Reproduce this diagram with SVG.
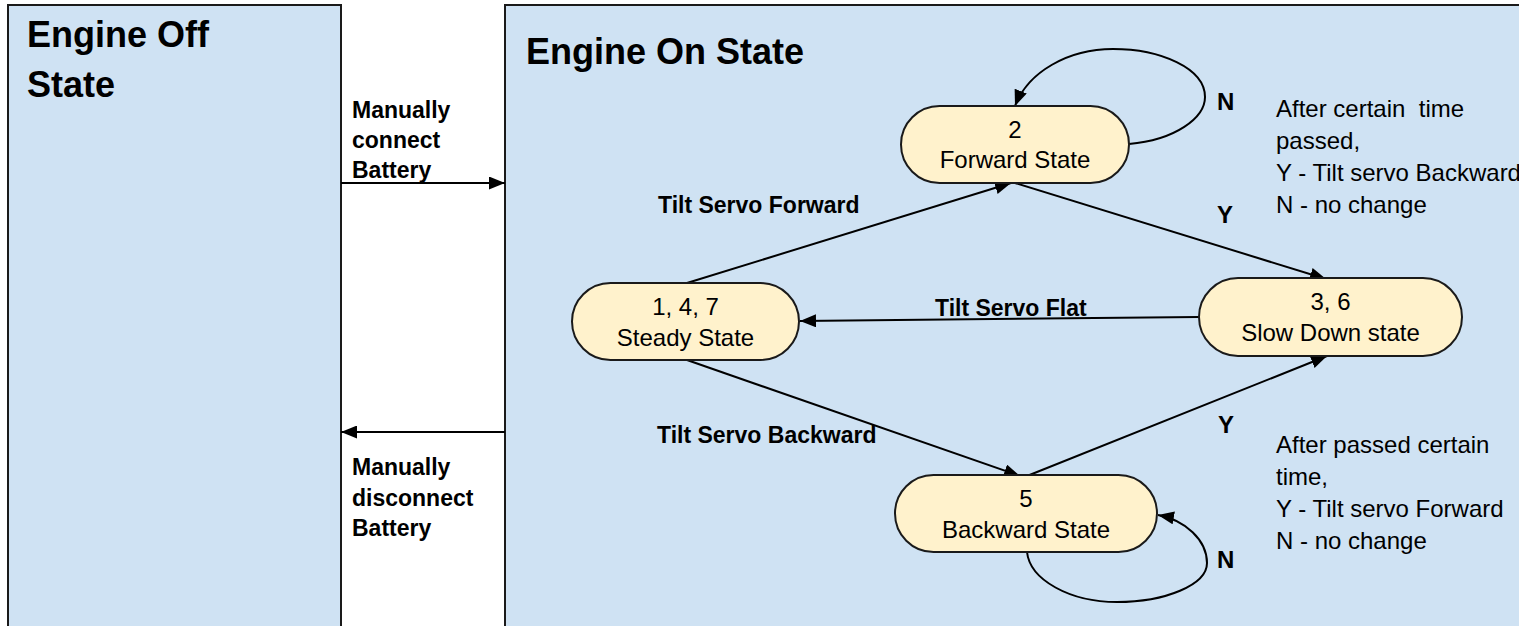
<svg xmlns="http://www.w3.org/2000/svg" width="1519" height="626" viewBox="0 0 1519 626">
<style>
.panel{fill:#cfe2f3;stroke:#1a1a1a;stroke-width:2}
.node{fill:#fff2cc;stroke:#1a1a1a;stroke-width:2}
.title{font-family:"Liberation Sans",Arial,sans-serif;font-weight:bold;font-size:36px;fill:#000}
.nt{font-family:"Liberation Sans",Arial,sans-serif;font-size:24px;fill:#000;text-anchor:middle}
.lbl{font-family:"Liberation Sans",Arial,sans-serif;font-weight:bold;font-size:23px;fill:#000}
.yn{font-family:"Liberation Sans",Arial,sans-serif;font-weight:bold;font-size:24px;fill:#000}
.note{font-family:"Liberation Sans",Arial,sans-serif;font-size:24px;fill:#000}
.edge{fill:none;stroke:#000;stroke-width:2}
</style>
<defs>
<marker id="arr" viewBox="0 0 16 13" refX="16" refY="6.5" markerWidth="16" markerHeight="13" orient="auto" markerUnits="userSpaceOnUse">
<path d="M0,0 L16,6.5 L0,13 z" fill="#000"/>
</marker>
</defs>
<rect width="1519" height="626" fill="#ffffff"/>

<g id="engine-off">
<rect class="panel" x="8" y="5" width="333" height="640"/>
<text class="title" x="27" y="47">Engine Off</text>
<text class="title" x="27" y="97">State</text>
</g>

<g id="engine-on">
<rect class="panel" x="505" y="5" width="1030" height="640"/>
<text class="title" x="526" y="64">Engine On State</text>
</g>

<g id="connectors">
<line class="edge" x1="341" y1="183" x2="505" y2="183" marker-end="url(#arr)"/>
<line class="edge" x1="505" y1="432" x2="341" y2="432" marker-end="url(#arr)"/>
<line class="edge" x1="687" y1="283" x2="1011" y2="183" marker-end="url(#arr)"/>
<line class="edge" x1="1015" y1="183" x2="1326" y2="279" marker-end="url(#arr)"/>
<line class="edge" x1="1199" y1="317" x2="800" y2="321" marker-end="url(#arr)"/>
<line class="edge" x1="687" y1="360" x2="1020" y2="476" marker-end="url(#arr)"/>
<line class="edge" x1="1027" y1="476" x2="1327" y2="356" marker-end="url(#arr)"/>
<path class="edge" d="M1129,144 C1175,140 1205,118 1205,97 C1205,68 1160,49 1113,49 C1068,49 1028,72 1015,106" marker-end="url(#arr)"/>
<path class="edge" d="M1027,552 C1030,580 1070,602 1117,602 C1165,602 1207,585 1207,563 C1207,540 1185,520 1158,515" marker-end="url(#arr)"/>
<text class="lbl" x="352" y="118">Manually</text>
<text class="lbl" x="352" y="148">connect</text>
<text class="lbl" x="352" y="178">Battery</text>
<text class="lbl" x="352" y="475">Manually</text>
<text class="lbl" x="352" y="506">disconnect</text>
<text class="lbl" x="352" y="536">Battery</text>
<text class="lbl" x="658" y="213">Tilt Servo Forward</text>
<text class="lbl" x="935" y="316">Tilt Servo Flat</text>
<text class="lbl" x="657" y="443">Tilt Servo Backward</text>
<text class="yn" x="1217" y="110">N</text>
<text class="yn" x="1217" y="223">Y</text>
<text class="yn" x="1218" y="433">Y</text>
<text class="yn" x="1217" y="568">N</text>
</g>

<g id="note-forward">
<text class="note" x="1276" y="117">After certain&#160; time</text>
<text class="note" x="1276" y="149">passed,</text>
<text class="note" x="1276" y="181">Y - Tilt servo Backward</text>
<text class="note" x="1276" y="213">N - no change</text>
</g>

<g id="note-backward">
<text class="note" x="1276" y="453">After passed certain</text>
<text class="note" x="1276" y="485">time,</text>
<text class="note" x="1276" y="517">Y - Tilt servo Forward</text>
<text class="note" x="1276" y="549">N - no change</text>
</g>

<g id="node-forward">
<rect class="node" x="901" y="106" width="228" height="77" rx="38.5"/>
<text class="nt" x="1015" y="138">2</text>
<text class="nt" x="1015" y="168">Forward State</text>
</g>

<g id="node-steady">
<rect class="node" x="572" y="283" width="227" height="77" rx="38.5"/>
<text class="nt" x="685.5" y="315">1, 4, 7</text>
<text class="nt" x="685.5" y="346">Steady State</text>
</g>

<g id="node-slowdown">
<rect class="node" x="1199" y="278" width="263" height="78" rx="39"/>
<text class="nt" x="1330.5" y="310">3, 6</text>
<text class="nt" x="1330.5" y="341">Slow Down state</text>
</g>

<g id="node-backward">
<rect class="node" x="895" y="475" width="262" height="77" rx="38.5"/>
<text class="nt" x="1026" y="507">5</text>
<text class="nt" x="1026" y="538">Backward State</text>
</g>
</svg>
